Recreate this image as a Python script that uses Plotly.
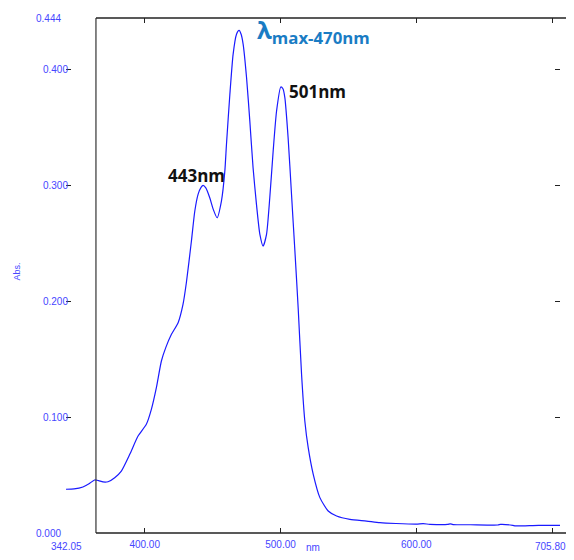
import plotly.graph_objects as go

wavelength_nm = [342.05, 348, 354.5, 359, 363.1, 366, 369.3, 373, 377.9, 382.8, 389, 395.1,
                 401.2, 404.9, 408.6, 412.3, 415.5, 419.7, 424.6, 428.2, 430.7, 434.4, 436.9,
                 439.3, 441.5, 443.0, 445, 447.9, 450.5, 453.3, 456.5, 459, 460.2, 462.7,
                 465.1, 467.6, 469.5, 471, 472.5, 475, 477.4, 479.8, 482.3, 484.8, 487.2,
                 489.7, 492.1, 494.6, 497.1, 500.2, 501.8, 503.2, 505.6, 508.1, 510.6, 513,
                 515.5, 517.9, 520.4, 524.1, 529, 535.1, 541.3, 551.1, 563.4, 573.2, 585,
                 600, 605, 610, 623, 625, 627, 640, 660, 662, 671, 673, 690, 705.8]
absorbance = [0.0377, 0.0380, 0.0397, 0.0425, 0.0457, 0.0452, 0.0440, 0.0442, 0.0477, 0.0534,
              0.0678, 0.0836, 0.0937, 0.1066, 0.1253, 0.1483, 0.1598, 0.1713, 0.1813, 0.1971,
              0.2160, 0.2517, 0.2776, 0.2920, 0.2980, 0.2997, 0.2975, 0.2890, 0.2790, 0.2718,
              0.2862, 0.3120, 0.335, 0.378, 0.4127, 0.430, 0.4333, 0.430, 0.4213, 0.3925,
              0.3552, 0.3149, 0.2833, 0.2575, 0.2474, 0.2575, 0.289, 0.3293, 0.3638, 0.3845,
              0.3830, 0.3753, 0.3408, 0.292, 0.2431, 0.1942, 0.1368, 0.0966, 0.0736, 0.0506,
              0.0305, 0.019, 0.0147, 0.0118, 0.0103, 0.0089, 0.0082, 0.0077, 0.0080, 0.0075,
              0.0074, 0.0079, 0.0073, 0.0071, 0.0069, 0.0074, 0.0066, 0.0061, 0.0066, 0.0065]

x_range = [342.05, 705.80]
y_range = [0.0, 0.444]
x_tickvals = [400, 500, 600, 700]
x_ticktext = ["400.00", "500.00", "600.00", ""]
y_tickvals = [0.1, 0.2, 0.3, 0.4]
y_ticktext = ["0.100", "0.200", "0.300", "0.400"]
axis_x_at = 364.1

label_blue = "#4646ff"
tick_font = dict(family="Liberation Sans, Arial", size=10, color=label_blue)

fig = go.Figure()
fig.add_trace(go.Scatter(x=wavelength_nm, y=absorbance, mode="lines",
                         line=dict(color="#1a1aff", width=1.2, shape="spline", smoothing=0.6),
                         hoverinfo="skip", showlegend=False))

fig.update_layout(
    width=558, height=544,
    margin=dict(l=58, r=6, t=10, b=19, autoexpand=False),
    paper_bgcolor="white", plot_bgcolor="white",
    xaxis=dict(range=x_range, showgrid=False, zeroline=False, showline=False,
               automargin=False,
               tickmode="array", tickvals=x_tickvals, ticktext=x_ticktext,
               ticks="inside", ticklen=5, tickwidth=1, tickcolor="#222",
               mirror="ticks", tickfont=tick_font, ticklabelstandoff=4),
    yaxis=dict(range=y_range, showgrid=False, zeroline=False, showline=False,
               automargin=False,
               tickmode="array", tickvals=y_tickvals, ticktext=y_ticktext,
               ticks="inside", ticklen=5, tickwidth=1, tickcolor="#222",
               mirror="ticks", tickfont=tick_font, ticklabelstandoff=-3),
)

# frame lines
fig.add_shape(type="line", xref="x", yref="paper", x0=axis_x_at, x1=axis_x_at, y0=0, y1=1,
              line=dict(color="#444", width=1.3))
fig.add_shape(type="line", xref="paper", yref="paper", x0=0.0607, x1=1.03, y0=0, y1=0,
              line=dict(color="#222", width=1.3))
fig.add_shape(type="line", xref="paper", yref="paper", x0=0.0607, x1=1.03, y0=1, y1=1,
              line=dict(color="#222", width=1.3))

# end labels
fig.add_annotation(x=342.05, y=0, xref="x", yref="y", text="342.05", showarrow=False,
                   xanchor="center", yanchor="top", yshift=-6, font=tick_font)
fig.add_annotation(x=698.6, y=0, xref="x", yref="y", text="705.80", showarrow=False,
                   xanchor="center", yanchor="top", yshift=-6, font=tick_font)
fig.add_annotation(x=0, y=0, xref="paper", yref="y", text="0.000", showarrow=False,
                   xanchor="right", xshift=-3, yanchor="middle", font=tick_font)
fig.add_annotation(x=0, y=0.444, xref="paper", yref="y", text="0.444", showarrow=False,
                   xanchor="right", xshift=-3, yanchor="middle", font=tick_font)
fig.add_annotation(x=0.5, y=-0.0369, xref="paper", yref="paper", text="nm", showarrow=False,
                   xanchor="center", yanchor="bottom", yshift=-3, font=tick_font)
fig.add_annotation(x=0, y=0.5, xref="paper", yref="paper", text="Abs.", showarrow=False,
                   textangle=-90, xanchor="center", yanchor="middle", xshift=-50, yshift=4,
                   font=dict(family="Liberation Sans, Arial", size=9, color=label_blue))

# peak labels
peak_font = dict(family="Open Sans, Noto Sans", size=17, color="#111")
fig.add_annotation(x=504.8, y=0.3806, xref="x", yref="y", text="<b>501nm</b>",
                   showarrow=False, xanchor="left", yanchor="middle", font=peak_font)
fig.add_annotation(x=415.7, y=0.3086, xref="x", yref="y", text="<b>443nm</b>",
                   showarrow=False, xanchor="left", yanchor="middle", font=peak_font)
fig.add_annotation(x=481.2, y=0.444, xref="x", yref="y",
                   text="<b>λ<sub>max-470nm</sub></b>", showarrow=False,
                   xanchor="left", yanchor="top", yshift=7,
                   font=dict(family="Open Sans, Noto Sans", size=24, color="#1a7cc4"))

fig.write_html("out.html")
